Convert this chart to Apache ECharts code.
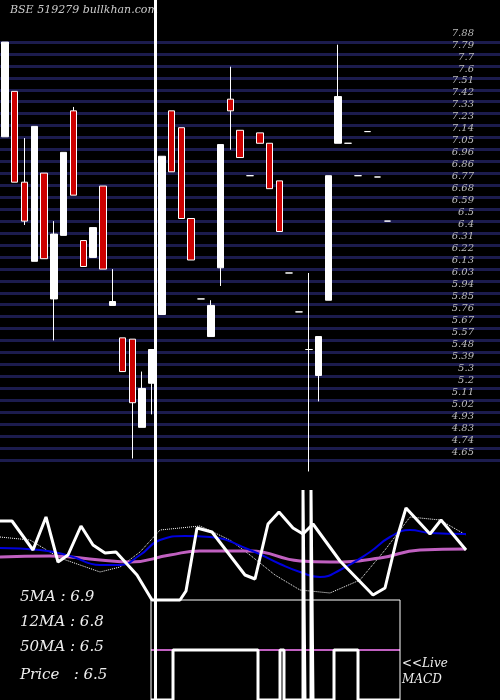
<!DOCTYPE html>
<html><head><meta charset="utf-8">
<script src="https://cdn.jsdelivr.net/npm/echarts@6/dist/echarts.min.js"></script>
<style>html,body{margin:0;background:#000}#c{width:500px;height:700px}</style>
</head><body><div id="c"></div>
<script>
// candles: [open, close, low, high], index = slot on the day axis
var candleSlots = [0,1,2,3,4,5,6,7,8,9,10,11,12,13,14,15,16,17,18,19,20,21,22,23,24,25,26,27,28,29,30,31,32,33,34,35,36,37,38,39];
var candleData = [
  [7.08,7.81,7.08,7.81],
  [7.43,6.73,6.73,7.43],
  [6.73,6.43,6.40,7.07],
  [6.12,7.16,6.12,7.16],
  [6.80,6.14,6.14,6.80],
  [5.83,6.33,5.51,6.43],
  [6.32,6.96,6.32,6.96],
  [7.28,6.63,6.63,7.31],
  [6.28,6.08,6.08,6.28],
  [6.15,6.38,6.15,6.38],
  [6.70,6.06,6.06,6.70],
  [5.78,5.81,5.78,6.06],
  [5.53,5.27,5.27,5.53],
  [5.52,5.03,4.60,5.52],
  [4.84,5.14,4.84,5.27],
  [5.18,5.44,4.94,5.44],
  [5.71,6.93,5.71,6.93],
  [7.28,6.81,6.81,7.28],
  [7.15,6.45,6.45,7.15],
  [6.45,6.13,6.13,6.45],
  [5.83,5.83,5.83,5.83],
  [5.54,5.78,5.54,5.82],
  [6.07,7.02,5.93,7.02],
  [7.37,7.28,6.98,7.62],
  [7.13,6.92,6.92,7.13],
  [6.78,6.78,6.78,6.78],
  [7.11,7.03,7.03,7.11],
  [7.03,6.68,6.68,7.03],
  [6.74,6.35,6.35,6.74],
  [6.03,6.03,6.03,6.03],
  [5.73,5.73,5.73,5.73],
  [5.44,5.44,4.50,6.03],
  [5.24,5.54,5.04,5.54],
  [5.82,6.78,5.82,6.78],
  [7.03,7.39,7.03,7.79],
  [7.03,7.03,7.03,7.03],
  [6.78,6.78,6.78,6.78],
  [7.12,7.12,7.12,7.12],
  [6.77,6.77,6.77,6.77],
  [6.43,6.43,6.43,6.43]
];
var priceMin = 4.65, priceMax = 7.88;

// lower panel indicator lines: [x, y] read in panel pixel units
var oscLine = [[0,521],[12,521],[33,550],[46,517],[58,562],[68,555],[81,526],[93,545],[105,553],[116,552],[137,575],[152,600],[180,600],[186,591],[197,528],[212,532],[245,575],[255,579],[268,524],[279,512],[293,528],[303,534],[313,524],[340,561],[373,595],[385,588],[397,538],[406,508],[430,534],[441,520],[466,550]];
var blueLine = [[0,548],[40,550],[70,556],[100,565],[120,565],[140,555],[160,540],[185,536],[210,537],[250,550],[280,564],[300,572],[320,577],[340,570],[370,552],[390,537],[410,530],[430,533],[466,534]];
var pinkLine = [[0,557],[50,556],[100,560],[130,562],[170,555],[200,551],[250,551],[300,561],[330,562],[380,558],[420,550],[466,549]];
var dotLine = [[0,537],[30,540],[60,558],[100,572],[120,567],[140,552],[160,530],[200,526],[230,540],[250,555],[275,575],[300,590],[330,593],[360,580],[385,550],[410,517],[440,520],[466,535]];
var macdStep = [[151,700],[173,700],[173,650],[258,650],[258,700],[280,700],[280,650],[284,650],[284,700],[303,700],[303,490],[305,490],[305,700],[311,700],[311,490],[313,490],[313,700],[334,700],[334,650],[358,650],[358,700],[400,700]];
var macdZero = [[151,650],[400,650]];

var cats = [];
for (var i = 0; i < 51; i++) cats.push(i);
var ohlc = cats.map(function (i) { return candleSlots.indexOf(i) >= 0 ? candleData[i] : '-'; });

var chart = echarts.init(document.getElementById('c'));
chart.setOption({
  backgroundColor: '#000',
  animation: false,
  grid: [
    {left: 0, right: 0, top: 33, bottom: 248},
    {left: 0, right: 0, top: 490, bottom: 0},
    {left: 0, right: 0, top: 42, bottom: 240}
  ],
  xAxis: [
    {type: 'category', data: cats, gridIndex: 0, show: false},
    {type: 'value', gridIndex: 1, min: 0, max: 500, show: false},
    {type: 'value', gridIndex: 2, min: 0, max: 1, show: false}
  ],
  yAxis: [
    {type: 'value', gridIndex: 0, position: 'right', min: priceMin, max: priceMax,
     interval: (priceMax - priceMin) / 35,
     axisLine: {show: false}, axisTick: {show: false}, splitLine: {show: false},
     axisLabel: {inside: true, margin: 26, color: '#bbb', fontSize: 10,
       fontFamily: 'DejaVu Serif', fontStyle: 'italic',
       formatter: function (v) { return +v.toFixed(2) + ''; }}},
    {type: 'value', gridIndex: 1, min: 490, max: 700, inverse: true, show: false},
    {type: 'value', gridIndex: 2, min: 0, max: 35, interval: 1,
     axisLine: {show: false}, axisTick: {show: false}, axisLabel: {show: false},
     splitLine: {lineStyle: {color: '#1c1c4e', width: 3}}, z: 0}
  ],
  series: [
    {type: 'candlestick', xAxisIndex: 0, yAxisIndex: 0, data: ohlc, barWidth: 7, z: 5,
     itemStyle: {color: '#fff', color0: '#c00', borderColor: '#fff', borderColor0: '#fff', borderWidth: 1}},
    {type: 'line', xAxisIndex: 1, yAxisIndex: 1, data: dotLine, symbol: 'none',
     lineStyle: {color: '#fff', width: 1, type: 'dotted'}},
    {type: 'line', xAxisIndex: 1, yAxisIndex: 1, data: pinkLine, symbol: 'none', smooth: true,
     lineStyle: {color: '#c060c0', width: 3}},
    {type: 'line', xAxisIndex: 1, yAxisIndex: 1, data: blueLine, symbol: 'none', smooth: true,
     lineStyle: {color: '#0000dd', width: 2}},
    {type: 'line', xAxisIndex: 1, yAxisIndex: 1, data: oscLine, symbol: 'none',
     lineStyle: {color: '#fff', width: 3}},
    {type: 'line', xAxisIndex: 1, yAxisIndex: 1, data: macdZero, symbol: 'none',
     lineStyle: {color: '#c060c0', width: 2}},
    {type: 'line', xAxisIndex: 1, yAxisIndex: 1, data: macdStep, symbol: 'none',
     lineStyle: {color: '#fff', width: 3}}
  ],
  graphic: [
    {type: 'rect', shape: {x: 151, y: 600, width: 249, height: 110}, style: {fill: 'none', stroke: '#fff', lineWidth: 1}, z: 10},
    {type: 'rect', shape: {x: 154, y: 0, width: 3, height: 700}, style: {fill: '#fff'}, z: 10},
    {type: 'text', left: 10, top: 5, style: {text: 'BSE 519279 bullkhan.com', fill: '#ccc', font: 'italic 11px "DejaVu Serif"'}},
    {type: 'text', left: 20, top: 590, style: {text: '5MA : 6.9', fill: '#eee', font: 'italic 15px "DejaVu Serif"'}},
    {type: 'text', left: 20, top: 615, style: {text: '12MA : 6.8', fill: '#eee', font: 'italic 15px "DejaVu Serif"'}},
    {type: 'text', left: 20, top: 640, style: {text: '50MA : 6.5', fill: '#eee', font: 'italic 15px "DejaVu Serif"'}},
    {type: 'text', left: 20, top: 668, style: {text: 'Price   : 6.5', fill: '#eee', font: 'italic 15px "DejaVu Serif"'}},
    {type: 'text', left: 402, top: 658, style: {text: '<<Live', fill: '#eee', font: 'italic 12px "DejaVu Serif"'}},
    {type: 'text', left: 402, top: 674, style: {text: 'MACD', fill: '#eee', font: 'italic 12px "DejaVu Serif"'}}
  ]
});
</script></body></html>
